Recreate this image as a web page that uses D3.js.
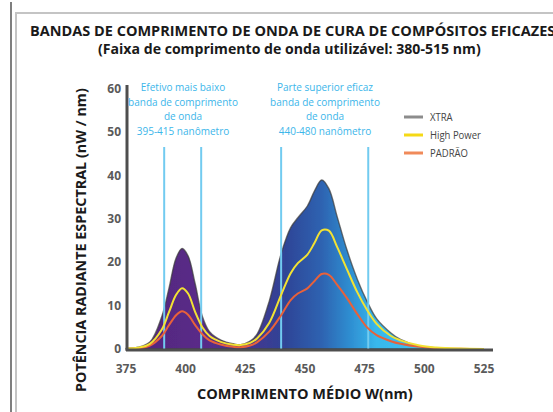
<!DOCTYPE html>
<html lang="pt">

<head>
  <meta charset="utf-8">
  <title>Bandas de comprimento de onda</title>
  <script type="text/javascript" src="https://d3js.org/d3.v7.min.js"></script>
  <style>
    body {
      margin: 0;
      background: #ffffff;
    }

    .title {
      font-family: "Open Sans", "Noto Sans", sans-serif;
      font-weight: bold;
      fill: #1a1a1a;
    }

    .tick-label {
      font-family: "Liberation Sans Narrow", "Open Sans", sans-serif;
      font-weight: bold;
      font-size: 12px;
      fill: #5a5a5a;
    }

    .note {
      font-family: "Open Sans", sans-serif;
      font-size: 11.5px;
      fill: #3cb6ea;
    }

    .legend-text {
      font-family: "Open Sans", sans-serif;
      font-size: 11.5px;
      fill: #444444;
    }

    path.xtra {
      stroke: #3a3a3a;
      stroke-width: 1.4;
      stroke-opacity: 0.7;
    }

    path.curve {
      fill: none;
      stroke-width: 2;
    }
  </style>
</head>

<body>
  <div id="container"></div>
  <script type="text/javascript">
    //----------------DATA----------------//
    var wavelengths = [375, 380, 385, 390, 393, 396, 398.5, 401, 404, 407, 410, 415, 420, 423, 427, 430, 435, 440, 444, 447, 451, 454, 457, 460, 463.5, 467.5, 472, 476, 480, 486, 490, 498, 505, 515, 525];
    var xtraValues = [0.1, 0.4, 1.6, 7.5, 14, 21, 23.2, 21.5, 15, 7.5, 4, 2, 1.2, 1.0, 1.8, 3.5, 11, 22, 28, 30.3, 33, 36.5, 39, 37, 30.5, 23, 16, 11, 7, 3.7, 2.2, 0.6, 0.2, 0.05, 0];
    var highPowerValues = [0.1, 0.3, 1.2, 4.5, 8.5, 12.5, 14, 12.8, 8.5, 5, 3, 1.6, 1.0, 0.9, 1.4, 2.5, 6, 12.5, 17.5, 19.8, 21.8, 24.5, 27.4, 27.3, 23.5, 18.5, 13, 9, 5.8, 3, 2, 0.8, 0.35, 0.1, 0];
    var padraoValues = [0.05, 0.2, 0.8, 3, 5.5, 7.8, 8.7, 7.9, 5.5, 3.4, 2, 1, 0.5, 0.4, 0.8, 1.6, 4, 7.8, 11.3, 12.8, 14, 15.7, 17.3, 17.1, 14.8, 11.8, 8, 5, 3.2, 1.8, 1.2, 0.5, 0.2, 0.05, 0];

    var xTicks = [375, 400, 425, 450, 475, 500, 525];
    var yTicks = [0, 10, 20, 30, 40, 50, 60];

    // vertical band markers (nm)
    var bandLines = [391, 406.5, 440, 476.5];

    var seriesNames = ["XTRA", "High Power", "PADRÃO"];
    var seriesColors = ["#8c8c8c", "#f5d916", "#f08a5a"];

    var noteLeft = ["Efetivo mais baixo", "banda de comprimento", "de onda", "395-415 nanômetro"];
    var noteRight = ["Parte superior eficaz", "banda de comprimento", "de onda", "440-480 nanômetro"];

    var title1 = "BANDAS DE COMPRIMENTO DE ONDA DE CURA DE COMPÓSITOS EFICAZES";
    var title2 = "(Faixa de comprimento de onda utilizável: 380-515 nm)";
    var xTitle = "COMPRIMENTO MÉDIO W(nm)";
    var yTitle = "POTÊNCIA RADIANTE ESPECTRAL (nW / nm)";

    //----------------CANVAS PREPARATION----------------//
    var W = 553;
    var H = 412;
    var svg = d3.select("div#container").append("svg")
      .attr("width", W)
      .attr("height", H);

    //PREPARE SCALES
    var xScale = d3.scaleLinear()
      .domain([375, 525])
      .range([126, 484]);

    var yScale = d3.scaleLinear()
      .domain([0, 60])
      .range([349, 89]);

    //FRAME
    svg.append("line")
      .attr("x1", 11).attr("x2", 11)
      .attr("y1", 2).attr("y2", H)
      .attr("stroke", "#555555")
      .attr("stroke-width", 1.5);

    svg.append("path")
      .attr("d", "M16," + H + "V13H" + W)
      .attr("fill", "none")
      .attr("stroke", "#c4c4c4")
      .attr("stroke-width", 2);

    //HELPER: fit text to a width
    function fitText(sel, width, startSize) {
      sel.style("font-size", startSize + "px");
      var len = sel.node().getComputedTextLength();
      sel.style("font-size", (startSize * width / len) + "px");
    }

    //TITLES
    var t1 = svg.append("text")
      .attr("class", "title")
      .attr("x", 30)
      .attr("y", 36)
      .text(title1);
    fitText(t1, 526, 14);

    var t2 = svg.append("text")
      .attr("class", "title")
      .attr("x", 98)
      .attr("y", 54)
      .text(title2);
    fitText(t2, 383, 14);

    //GRADIENT FOR XTRA AREA
    var defs = svg.append("defs");
    var grad = defs.append("linearGradient")
      .attr("id", "spectrum")
      .attr("gradientUnits", "userSpaceOnUse")
      .attr("x1", xScale(375)).attr("x2", xScale(525))
      .attr("y1", 0).attr("y2", 0);

    var gradStops = [
      [375, "#50267a"],
      [405, "#5a2a88"],
      [425, "#46338e"],
      [442, "#2f4597"],
      [457, "#2e63b1"],
      [470, "#2f92d4"],
      [480, "#38b8ec"],
      [525, "#48c6f0"]
    ];
    grad.selectAll("stop")
      .data(gradStops)
      .enter().append("stop")
      .attr("offset", function (d) { return (d[0] - 375) / 150; })
      .attr("stop-color", function (d) { return d[1]; });

    var blur = defs.append("filter").attr("id", "soft");
    blur.append("feGaussianBlur").attr("stdDeviation", 0.6);

    //XTRA AREA
    var xtraData = wavelengths.map(function (w, i) { return [w, xtraValues[i]]; });
    var areaGen = d3.area()
      .x(function (d) { return xScale(d[0]); })
      .y0(yScale(0))
      .y1(function (d) { return yScale(d[1]); })
      .curve(d3.curveCatmullRom.alpha(0.5));

    svg.append("path")
      .attr("class", "xtra")
      .attr("d", areaGen(xtraData))
      .attr("fill", "url(#spectrum)")
      .attr("filter", "url(#soft)");

    //BAND LINES
    svg.selectAll("line.band")
      .data(bandLines)
      .enter().append("line")
      .attr("class", "band")
      .attr("x1", function (d) { return xScale(d); })
      .attr("x2", function (d) { return xScale(d); })
      .attr("y1", 147)
      .attr("y2", yScale(0))
      .attr("stroke", "#72cbf0")
      .attr("stroke-width", 2);

    //LINES
    var lineGen = d3.line()
      .x(function (d) { return xScale(d[0]); })
      .y(function (d) { return yScale(d[1]); })
      .curve(d3.curveCatmullRom.alpha(0.5));

    var hpData = wavelengths.map(function (w, i) { return [w, highPowerValues[i]]; });
    var pdData = wavelengths.map(function (w, i) { return [w, padraoValues[i]]; });

    svg.append("path")
      .attr("class", "curve")
      .attr("d", lineGen(pdData))
      .attr("stroke", "#e8613a");

    svg.append("path")
      .attr("class", "curve")
      .attr("d", lineGen(hpData))
      .attr("stroke", "#f2e233");

    //AXES
    svg.append("line")
      .attr("x1", xScale(375)).attr("x2", xScale(525) + 9)
      .attr("y1", yScale(0) + 1).attr("y2", yScale(0) + 1)
      .attr("stroke", "#4e4e4e")
      .attr("stroke-width", 3);

    svg.append("line")
      .attr("x1", xScale(375) + 1).attr("x2", xScale(375) + 1)
      .attr("y1", yScale(60) - 4).attr("y2", yScale(0) + 2)
      .attr("stroke", "#4e4e4e")
      .attr("stroke-width", 3);

    svg.selectAll("text.xtick")
      .data(xTicks)
      .enter().append("text")
      .attr("class", "tick-label xtick")
      .attr("x", function (d) { return xScale(d); })
      .attr("y", 373)
      .attr("text-anchor", "middle")
      .text(function (d) { return d; });

    svg.selectAll("text.ytick")
      .data(yTicks)
      .enter().append("text")
      .attr("class", "tick-label ytick")
      .attr("x", 121)
      .attr("y", function (d) { return yScale(d) + 4; })
      .attr("text-anchor", "end")
      .text(function (d) { return d; });

    //AXIS TITLES
    var xt = svg.append("text")
      .attr("class", "title")
      .attr("x", 197)
      .attr("y", 399)
      .text(xTitle);
    fitText(xt, 216, 13);

    var yt = svg.append("text")
      .attr("class", "title")
      .attr("transform", "translate(86,392) rotate(-90)")
      .text(yTitle);
    fitText(yt, 304, 13);

    //NOTES (condensed look: squeeze horizontally)
    function drawNote(lines, cx) {
      var g = svg.append("g");
      var texts = g.selectAll("text")
        .data(lines)
        .enter().append("text")
        .attr("class", "note")
        .attr("x", 0)
        .attr("y", function (d, i) { return 91 + i * 14.7; })
        .attr("text-anchor", "middle")
        .text(function (d) { return d; });
      var len = texts.nodes()[1].getComputedTextLength();
      g.attr("transform", "translate(" + cx + ",0) scale(" + (110 / len) + ",1)");
    }
    drawNote(noteLeft, 183);
    drawNote(noteRight, 325);

    //LEGEND
    var legend = svg.append("g")
      .attr("transform", "translate(404,117)");

    var legendRows = legend.selectAll("g")
      .data(seriesNames)
      .enter().append("g")
      .attr("transform", function (d, i) { return "translate(0," + (i * 18) + ")"; });

    legendRows.append("line")
      .attr("x1", 0).attr("x2", 19)
      .attr("stroke", function (d, i) { return seriesColors[i]; })
      .attr("stroke-width", 3);

    var legendTexts = legendRows.append("text")
      .attr("class", "legend-text")
      .attr("x", 0)
      .attr("y", 4)
      .text(function (d) { return d; });
    var hpLen = legendTexts.nodes()[1].getComputedTextLength();
    legendTexts.attr("transform", "translate(26,0) scale(" + (51 / hpLen) + ",1)");
  </script>
</body>

</html>
